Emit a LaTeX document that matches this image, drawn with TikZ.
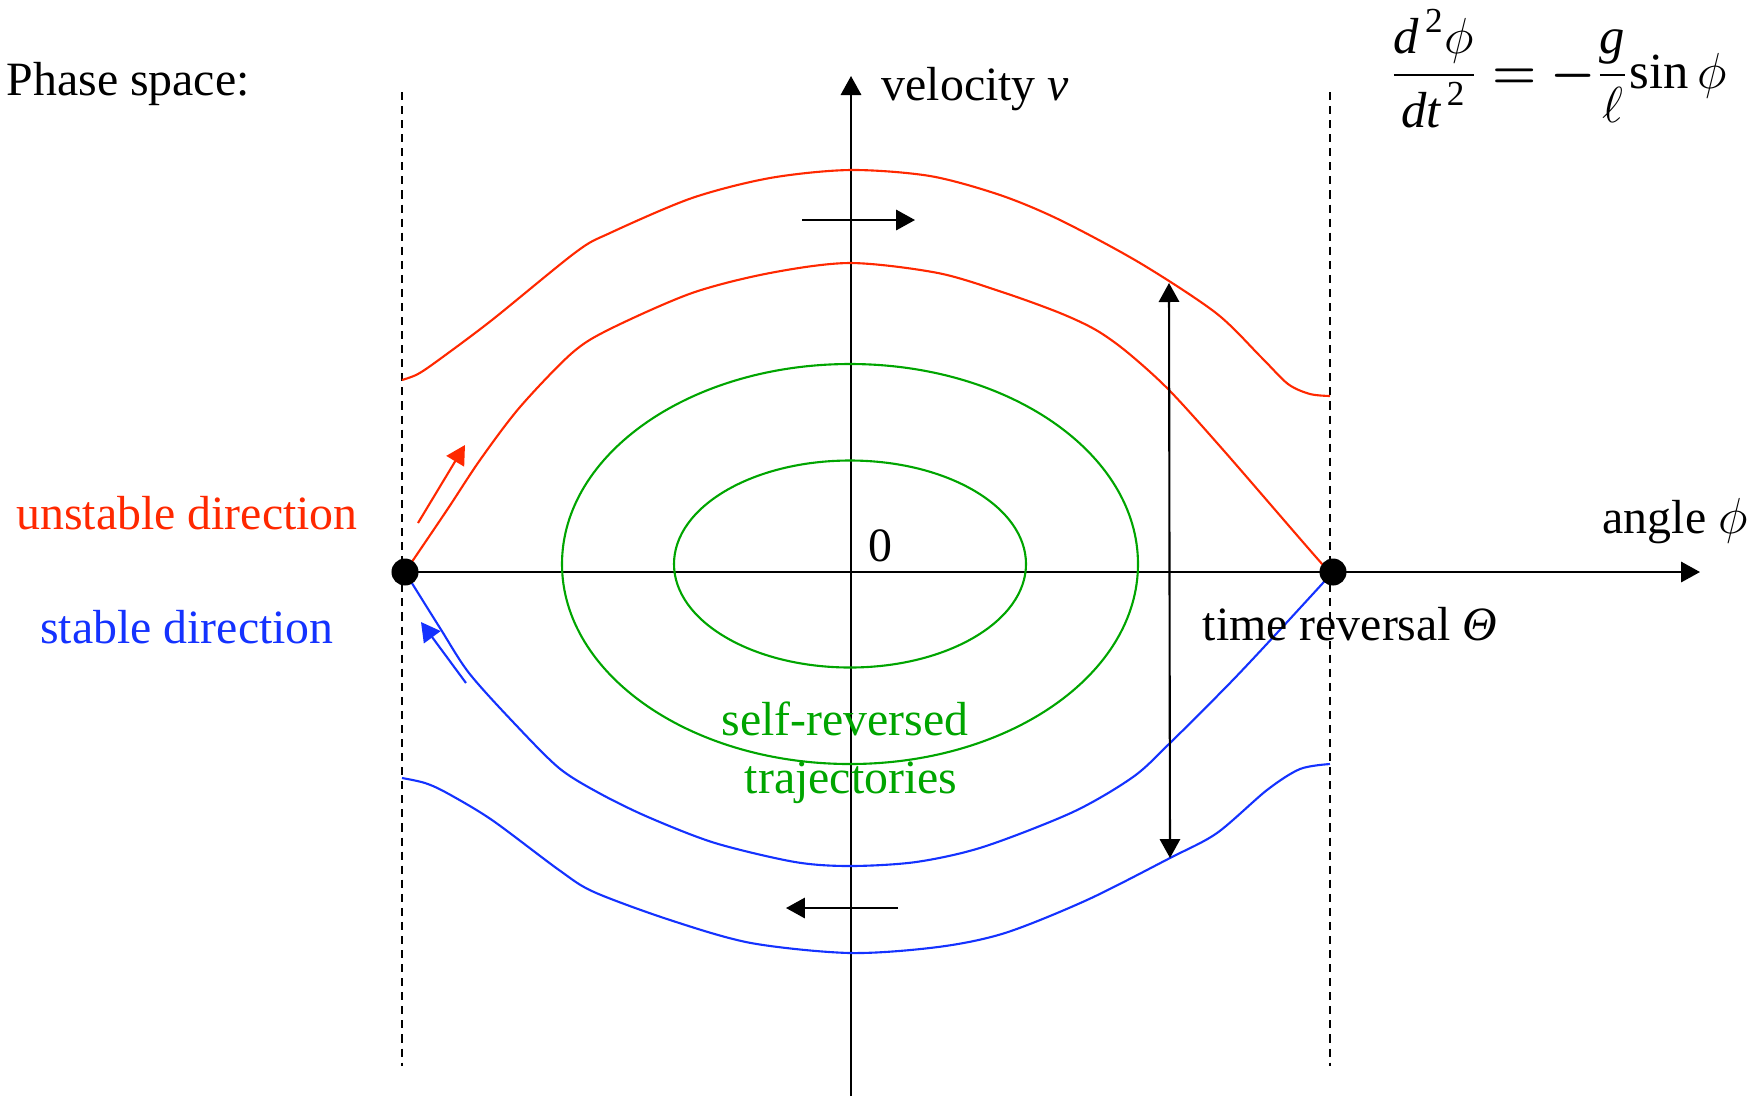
\documentclass[tikz,border=0pt]{standalone}
\usepackage{amsmath}
\usepackage{fontspec}
\setmainfont{Liberation Serif}
\usetikzlibrary{arrows.meta}
\definecolor{cred}{RGB}{255,40,0}
\definecolor{cblue}{RGB}{20,50,255}
\definecolor{cgreen}{RGB}{0,165,0}
\begin{document}
\begin{tikzpicture}[x=0.01cm,y=-0.01cm,
  lbl/.style={inner sep=0pt, font=\fontsize{13.6}{16}\selectfont},
  tip/.style={-{Triangle[length=5.4pt,width=5.8pt]}},
  axis/.style={line width=0.6pt, tip},
  guide/.style={line width=0.5pt, dash pattern=on 2.3pt off 1.7pt},
  traj/.style={line width=0.6pt},
  dot/.style={circle, fill=black, inner sep=0pt, minimum size=0.27cm}]
\useasboundingbox (0,0) rectangle (1760,1096);

% key coordinates
\coordinate (L) at (405,572);
\coordinate (R) at (1333,572);
\coordinate (O) at (850,564);
\coordinate (xend) at (1700,572);
\coordinate (ybot) at (851,1096);
\coordinate (ytop) at (851,76);

% dashed guides
\draw[guide] (402,92) -- (402,1066);
\draw[guide] (1330,92) -- (1330,1066);

% axes
\draw[axis] (ybot) -- (ytop);
\draw[axis] (L) -- (xend);

% green self-reversed trajectories
\draw[traj, cgreen] (O) ellipse [x radius=176, y radius=103.5];
\draw[traj, cgreen] (O) ellipse [x radius=288, y radius=200];

% red curves
\draw[traj, cred] plot[smooth, tension=0.5] coordinates {(402,380) (418,374) (440,359) (492,320) (576,252) (610,233) (692,198) (770,178) (850,170) (930,176) (1000,195) (1060,220) (1140,263) (1216,313) (1261,357) (1288,384) (1310,394) (1330,396)};
\coordinate (TA) at (1169,283);
\draw[traj, cred] plot[smooth, tension=0.5] coordinates {(L) (447,510) (480,460) (520,407) (572,353) (610,329) (692,293) (770,273) (850,263) (938,273) (1005,293) (1060,313) (1096,330) (1127,352) (1169,390) (1225,452) (1323,565) (R)};

% blue curves
\draw[traj, cblue] plot[smooth, tension=0.5] coordinates {(L) (440,628) (469,673) (514,723) (559,768) (599,793) (648,817) (715,843) (795,862) (850,866) (916,862) (983,847) (1073,812) (1133,777) (1170,743) (1230,683) (1277,633) (R)};
\draw[traj, cblue] plot[smooth, tension=0.5] coordinates {(402,778) (425,783) (447,793) (492,820) (559,870) (594,892) (670,920) (751,943) (850,953) (938,947) (1005,933) (1087,900) (1170,858) (1217,833) (1267,790) (1300,769) (1330,764)};
\coordinate (TB) at (1170,858);

% fixed points
\node[dot] (ldot) at (L) {};
\node[dot] (rdot) at (R) {};

% direction arrows
\coordinate (ua) at (418,523); \coordinate (ub) at (465,445);
\draw[traj, cred, tip] (ua) -- (ub);
\coordinate (sa) at (466,683); \coordinate (sb) at (421,622);
\draw[traj, cblue, tip] (sa) -- (sb);
\coordinate (ta) at (802,220); \coordinate (tb) at (915,220);
\draw[traj, black, tip] (ta) -- (tb);
\coordinate (ba) at (898,908); \coordinate (bb) at (786,908);
\draw[traj, black, tip] (ba) -- (bb);

% time reversal arrow
\draw[line width=0.6pt, {Triangle[length=5.4pt,width=5.8pt]}-{Triangle[length=5.4pt,width=5.8pt]}] (TA) -- (TB);

% labels
\node[lbl, anchor=base west] (title) at (6,95) {Phase space:};
\node[lbl, anchor=base west] (vlab) at (881,100) {velocity \textit{v}};
\node[lbl, anchor=base west] (alab) at (1602,533) {angle $\phi$};
\node[lbl, anchor=base] (zero) at (880,561) {0};
\node[lbl, anchor=base, text=cred] (unst) at (187,529) {unstable direction};
\node[lbl, anchor=base, text=cblue] (stab) at (187,643) {stable direction};
\node[lbl, anchor=base west] (trev) at (1202,640) {time reversal \textit{Θ}};
\node[lbl, anchor=base, text=cgreen] (self1) at (845,735) {self-reversed};
\node[lbl, anchor=base, text=cgreen] (self2) at (851,793) {trajectories};
\node[inner sep=0pt, anchor=base west, font=\fontsize{14.4}{17}\selectfont] (eq) at (1389,88)
  {$\displaystyle \frac{\textit{d}^{\,\textrm{2}}\phi}{\textit{dt}^{\,\textrm{2}}} \boldsymbol{=} \boldsymbol{-}\frac{\textit{g}}{\ell}\textrm{sin}\,\phi$};
\end{tikzpicture}
\end{document}
